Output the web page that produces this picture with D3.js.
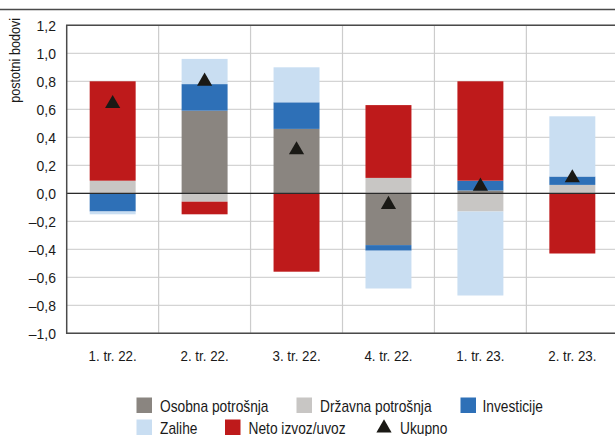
<!DOCTYPE html>
<html>
<head>
<meta charset="utf-8">
<script src="https://cdn.jsdelivr.net/npm/d3@7"></script>
<style>
  body { margin: 0; background: #fff; }
  text { font-family: "Liberation Sans", Arial, sans-serif; fill: #1a1a1a; }
</style>
</head>
<body>
<div id="chart"></div>
<script>
const width = 615;
const height = 436;
const margin = {top: 25.3, right: -3.3, bottom: 102.7, left: 66.7};

// data
const quarters = ["1. tr. 22.", "2. tr. 22.", "3. tr. 22.", "4. tr. 22.", "1. tr. 23.", "2. tr. 23."];
const seriesNames = ["Osobna potrošnja", "Državna potrošnja", "Investicije", "Zalihe", "Neto izvoz/uvoz"];
const osobna   = [0.00, 0.59, 0.46, -0.37, 0.02, 0.00];
const drzavna  = [0.09, -0.06, 0.00, 0.11, -0.13, 0.06];
const invest   = [-0.13, 0.19, 0.19, -0.04, 0.07, 0.06];
const zalihe   = [-0.02, 0.18, 0.25, -0.27, -0.60, 0.43];
const neto     = [0.71, -0.09, -0.56, 0.52, 0.71, -0.43];
const ukupno   = [0.64, 0.80, 0.31, -0.08, 0.05, 0.11];
const yTicks   = [-1.0, -0.8, -0.6, -0.4, -0.2, 0.0, 0.2, 0.4, 0.6, 0.8, 1.0, 1.2];

const colors = ["#8a8580", "#c8c6c4", "#2e70b7", "#c9def2", "#be1a1b"];

const rows = quarters.map((q, i) => ({
  q: q,
  "Osobna potrošnja": osobna[i],
  "Državna potrošnja": drzavna[i],
  "Investicije": invest[i],
  "Zalihe": zalihe[i],
  "Neto izvoz/uvoz": neto[i]
}));

const locale = d3.formatLocale({decimal: ",", thousands: ".", grouping: [3], currency: ["", ""], minus: "–"});
const fmt = locale.format(".1f");

const svg = d3.select("#chart").append("svg")
  .attr("width", width)
  .attr("height", height);

// condensed look: squeeze text horizontally
function label(parent, x, y, txt, opts) {
  const s = opts.scale || 0.86;
  return parent.append("text")
    .attr("transform", "translate(" + x + "," + y + ")" + (opts.rotate ? " rotate(" + opts.rotate + ")" : "") + " scale(" + s + ",1)")
    .attr("text-anchor", opts.anchor || "start")
    .attr("font-size", opts.size || "16px")
    .text(txt);
}

const x = d3.scaleBand()
  .domain(quarters)
  .range([margin.left, width - margin.right])
  .paddingInner(0.5)
  .paddingOuter(0.25);

const y = d3.scaleLinear()
  .domain([-1.0, 1.2])
  .range([height - margin.bottom, margin.top]);

// top rule
svg.append("line")
  .attr("x1", 0).attr("x2", width)
  .attr("y1", 9.5).attr("y2", 9.5)
  .attr("stroke", "#4a4a4a").attr("stroke-width", 1.5);

// horizontal grid
svg.append("g")
  .selectAll("line")
  .data(yTicks)
  .join("line")
    .attr("x1", margin.left).attr("x2", width)
    .attr("y1", d => y(d)).attr("y2", d => y(d))
    .attr("stroke", "#d4d4d4").attr("stroke-width", 1.2);

// vertical grid at band edges
svg.append("g")
  .selectAll("line")
  .data(quarters.slice(1))
  .join("line")
    .attr("x1", d => x(d) - x.bandwidth() * 0.5)
    .attr("x2", d => x(d) - x.bandwidth() * 0.5)
    .attr("y1", y(1.2)).attr("y2", y(-1.0))
    .attr("stroke", "#cccccc").attr("stroke-width", 1.2);

// stacked bars
const stack = d3.stack()
  .keys(seriesNames)
  .offset(d3.stackOffsetDiverging);

const layers = stack(rows);

svg.append("g")
  .selectAll("g")
  .data(layers)
  .join("g")
    .attr("fill", (d, i) => colors[i])
  .selectAll("rect")
  .data(d => d)
  .join("rect")
    .attr("x", d => x(d.data.q))
    .attr("width", x.bandwidth())
    .attr("y", d => y(Math.max(d[0], d[1])))
    .attr("height", d => Math.abs(y(d[0]) - y(d[1])));

// zero line
svg.append("line")
  .attr("x1", margin.left).attr("x2", width)
  .attr("y1", y(0)).attr("y2", y(0))
  .attr("stroke", "#2a2a2a").attr("stroke-width", 1.2);

// frame
svg.append("path")
  .attr("d", "M" + width + "," + y(1.2) + "H" + margin.left + "V" + y(-1.0) + "H" + width)
  .attr("fill", "none")
  .attr("stroke", "#4a4a4a")
  .attr("stroke-width", 1.5);

// total markers
const tri = d3.symbol().type(d3.symbolTriangle).size(100);
svg.append("g")
  .selectAll("path")
  .data(ukupno)
  .join("path")
    .attr("d", tri)
    .attr("transform", (d, i) => "translate(" + (x(quarters[i]) + x.bandwidth() / 2) + "," + y(d) + ")")
    .attr("fill", "#1a1915");

// y axis labels
const gy = svg.append("g");
yTicks.forEach(d => label(gy, 56, y(d) + 5.3, fmt(d), {anchor: "end", size: "15px", scale: 0.93}));

// y title
label(svg, 19.5, 18, "postotni bodovi", {anchor: "end", size: "15px", scale: 0.84, rotate: -90});

// x labels
const gx = svg.append("g");
quarters.forEach(q => label(gx, x(q) + x.bandwidth() / 2, 361, q, {anchor: "middle", size: "15.5px"}));

// legend
const legendItems = [
  {name: "Osobna potrošnja", type: "rect", color: colors[0], x: 136.5, y: 397.5, tx: 160},
  {name: "Državna potrošnja", type: "rect", color: colors[1], x: 296.5, y: 397.5, tx: 320},
  {name: "Investicije", type: "rect", color: colors[2], x: 460.5, y: 397.5, tx: 482.5},
  {name: "Zalihe", type: "rect", color: colors[3], x: 136.5, y: 419.5, tx: 160},
  {name: "Neto izvoz/uvoz", type: "rect", color: colors[4], x: 225, y: 419.5, tx: 248.5},
  {name: "Ukupno", type: "tri", color: "#1a1915", x: 376.5, y: 419.5, tx: 400}
];

const legend = svg.append("g");
legendItems.forEach(it => {
  if (it.type === "rect") {
    legend.append("rect")
      .attr("x", it.x).attr("y", it.y)
      .attr("width", 15.5).attr("height", 15.5)
      .attr("fill", it.color);
  } else {
    legend.append("path")
      .attr("d", tri)
      .attr("transform", "translate(" + (it.x + 7.5) + "," + (it.y + 8.5) + ")")
      .attr("fill", it.color);
  }
  label(legend, it.tx, it.y + 14.2, it.name, {size: "16px"});
});
</script>
</body>
</html>
